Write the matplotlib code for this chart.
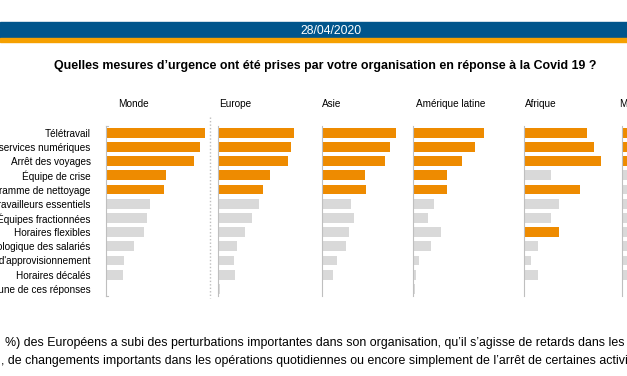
import matplotlib
matplotlib.use("Agg")
import matplotlib.pyplot as plt
from matplotlib.lines import Line2D

plt.rcParams['font.family'] = ['Liberation Sans', 'DejaVu Sans']

W, H = 627, 376

categories = [
    "Télétravail",
    "Recours aux services numériques",
    "Arrêt des voyages",
    "Équipe de crise",
    "Programme de nettoyage",
    "Identification des travailleurs essentiels",
    "Équipes fractionnées",
    "Horaires flexibles",
    "Soutien psychologique des salariés",
    "Sécurisation de la chaîne d'approvisionnement",
    "Horaires décalés",
    "Aucune de ces réponses",
]

regions = ["Monde", "Europe", "Asie", "Amérique latine", "Afrique", "Moyen-Orient"]

monde = [99, 94, 88, 60, 58, 44, 41, 38, 28, 18, 17, 0]
europe = [76, 73, 70, 52, 45, 41, 34, 27, 19, 16, 17, 2]
asie = [74, 68, 63, 43, 44, 29, 32, 27, 24, 15, 11, 0]
amerique_latine = [71, 62, 49, 34, 34, 21, 15, 28, 18, 6, 3, 2]
afrique = [63, 70, 77, 27, 56, 35, 27, 35, 14, 7, 14, 0]
moyen_orient = [70, 66, 62, 40, 38, 34, 30, 28, 24, 20, 16, 0]

# rows highlighted in orange for each region
highlight = [
    [0, 1, 2, 3, 4],
    [0, 1, 2, 3, 4],
    [0, 1, 2, 3, 4],
    [0, 1, 2, 3, 4],
    [0, 1, 2, 4, 7],
    [0, 1, 2],
]

values = [monde, europe, asie, amerique_latine, afrique, moyen_orient]

ORANGE = "#EE8B00"
GREY = "#D9D9D9"
BLUE = "#00558C"


def fx(x):
    return x / W


def fy(y):
    return 1 - y / H


fig = plt.figure(figsize=(W / 100, H / 100), dpi=100)

# header band
fig.patches.append(plt.Rectangle((0, fy(38)), 1, (38 - 22) / H, transform=fig.transFigure,
                                 color=BLUE, zorder=0))
fig.patches.append(plt.Rectangle((0, fy(42)), 1, 4 / H, transform=fig.transFigure,
                                 color="#F5A000", zorder=0))
fig.text(fx(331), fy(30.5), "28/04/2020", color="white", fontsize=8.8,
         ha="center", va="center")

fig.text(fx(325), fy(66), "Quelles mesures d\u2019urgence ont été prises par votre organisation en réponse à la Covid 19 ?",
         fontsize=8.9, fontweight="bold", ha="center", va="center")

# panels: left edge of axis (px) and title x (px)
axis_x = [106, 218, 322, 413, 524, 622]
title_x = [118, 219, 322, 416, 525, 619]
top, bottom = 125.6, 296.0

for i, name in enumerate(regions):
    ax = fig.add_axes([fx(axis_x[i]), fy(bottom), 100 / W, (bottom - top) / H])
    cols = [ORANGE if r in highlight[i] else GREY for r in range(len(categories))]
    ax.barh(range(len(categories)), values[i], height=0.7, color=cols)
    ax.set_xlim(0, 100)
    ax.set_ylim(len(categories) - 0.5, -0.5)
    ax.set_xticks([])
    ax.set_yticks([])
    for s in ["top", "right", "bottom"]:
        ax.spines[s].set_visible(False)
    ax.spines["left"].set_color("#BFBFBF")
    ax.spines["left"].set_linewidth(0.8)
    ax.patch.set_alpha(0)
    if i == 0:
        ax.set_yticks(range(len(categories)))
        ax.set_yticklabels(categories, fontsize=7.2)
        ax.tick_params(axis="y", length=0, pad=11)
        # small end marks on the Monde axis
        ax.plot([0, 1.5], [-0.5, -0.5], color="#BFBFBF", lw=0.8, clip_on=False)
        ax.plot([0, 1.5], [len(categories) - 0.5] * 2, color="#BFBFBF", lw=0.8, clip_on=False)
    fig.text(fx(title_x[i]), fy(104), name, fontsize=7.2, ha="left", va="center")

# dotted separator after Monde
fig.add_artist(Line2D([fx(210), fx(210)], [fy(117), fy(298)], transform=fig.transFigure,
                      color="#BFBFBF", linestyle=(0, (1, 1.5)), linewidth=1))

fig.text(fx(5), fy(343), "%) des Européens a subi des perturbations importantes dans son organisation, qu\u2019il s\u2019agisse de retards dans les",
         fontsize=8.9, ha="left", va="center")
fig.text(fx(1), fy(361), ", de changements importants dans les opérations quotidiennes ou encore simplement de l\u2019arrêt de certaines activités",
         fontsize=8.9, ha="left", va="center")

fig.savefig("out.png", dpi=100)
